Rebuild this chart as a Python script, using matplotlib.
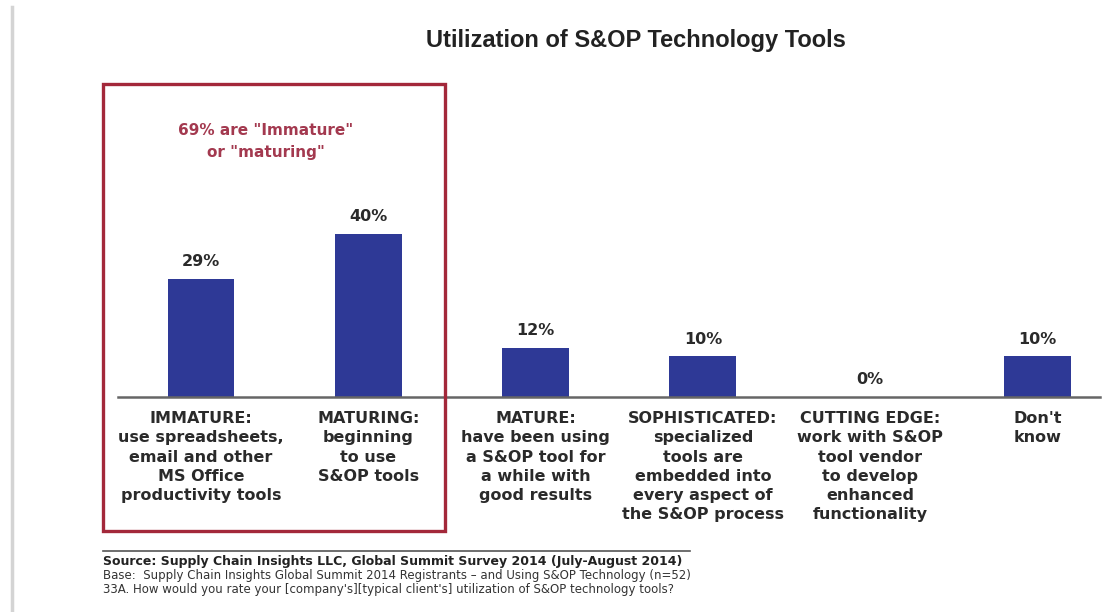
import numpy as np
import matplotlib
matplotlib.use("Agg")
import matplotlib.pyplot as plt
from matplotlib.patches import Rectangle
from matplotlib.lines import Line2D

# data
categories = ["IMMATURE:\nuse spreadsheets,\nemail and other\nMS Office\nproductivity tools",
              "MATURING:\nbeginning\nto use\nS&OP tools",
              "MATURE:\nhave been using\na S&OP tool for\na while with\ngood results",
              "SOPHISTICATED:\nspecialized\ntools are\nembedded into\nevery aspect of\nthe S&OP process",
              "CUTTING EDGE:\nwork with S&OP\ntool vendor\nto develop\nenhanced\nfunctionality",
              "Don't\nknow"]
values = [29, 40, 12, 10, 0, 10]
value_labels = ["29%", "40%", "12%", "10%", "0%", "10%"]

title = "Utilization of S&OP Technology Tools"
callout = "69% are \"Immature\"\nor \"maturing\""
footer = ["Source: Supply Chain Insights LLC, Global Summit Survey 2014 (July-August 2014)",
          "Base:  Supply Chain Insights Global Summit 2014 Registrants \u2013 and Using S&OP Technology (n=52)",
          "33A. How would you rate your [company's][typical client's] utilization of S&OP technology tools?"]

plt.rcParams['font.family'] = ['DejaVu Sans']

W, H = 1105, 612
fig = plt.figure(figsize=(W / 100, H / 100), dpi=100, facecolor='white')

# axes: baseline at y=397px, bar centres 201..1038px, 4.07 px per percent
base_px = 397
px_per_pct = 4.07
left_px, right_px = 118, 1100
c0, step = 201, 167.3
ax = fig.add_axes([left_px / W, 1 - base_px / H, (right_px - left_px) / W, (base_px - 150) / H])
x = np.arange(len(values))
ax.set_xlim((left_px - c0) / step, (right_px - c0) / step)
ax.set_ylim(0, (base_px - 150) / px_per_pct)

ax.bar(x, values, width=0.4, color='#2e3996', zorder=2)
for xi, v, lab in zip(x, values, value_labels):
    ax.annotate(lab, xy=(xi, v), xytext=(0, 7), textcoords='offset points',
                ha='center', va='bottom', fontsize=11.5, fontweight='bold',
                color='#2a2a2a')

for s in ['top', 'right', 'left']:
    ax.spines[s].set_visible(False)
ax.spines['bottom'].set_color('#666666')
ax.spines['bottom'].set_linewidth(1.8)
ax.set_xticks([])
ax.set_yticks([])
ax.patch.set_alpha(0)

# category labels below the baseline
for xi, cat in zip(x, categories):
    ax.annotate(cat, xy=(xi, 0), xycoords='data', xytext=(0, -10),
                textcoords='offset points', ha='center', va='top',
                fontsize=11.5, fontweight='bold', color='#2a2a2a',
                linespacing=1.36)

# title
fig.text(636 / W, 1 - 41 / H, title, ha='center', va='center',
         fontsize=17, fontweight='bold', color='#222222', family='Liberation Sans')

# red highlight box and callout
fig.patches.append(Rectangle((103 / W, 1 - 531 / H), (445 - 103) / W, (531 - 84) / H,
                             transform=fig.transFigure, fill=False,
                             edgecolor='#a3283a', linewidth=2.4, zorder=5))
fig.text(266 / W, 1 - 141.5 / H, callout, ha='center', va='center',
         fontsize=11, fontweight='bold', color='#a3394f', linespacing=1.6)

# left grey rule
fig.lines.append(Line2D([12 / W, 12 / W], [0, 1 - 7 / H], transform=fig.transFigure,
                        color='#d4d4d4', linewidth=2.5))

# footer
fig.lines.append(Line2D([103 / W, 690 / W], [1 - 551 / H, 1 - 551 / H],
                        transform=fig.transFigure, color='#555555', linewidth=1.2))
fig.text(103 / W, 1 - 561 / H, footer[0], ha='left', va='center',
         fontsize=9, fontweight='bold', color='#222222')
fig.text(103 / W, 1 - 575 / H, footer[1], ha='left', va='center',
         fontsize=8.5, color='#333333')
fig.text(103 / W, 1 - 589 / H, footer[2], ha='left', va='center',
         fontsize=8.5, color='#333333')

fig.savefig("out.png", dpi=100, facecolor='white')
